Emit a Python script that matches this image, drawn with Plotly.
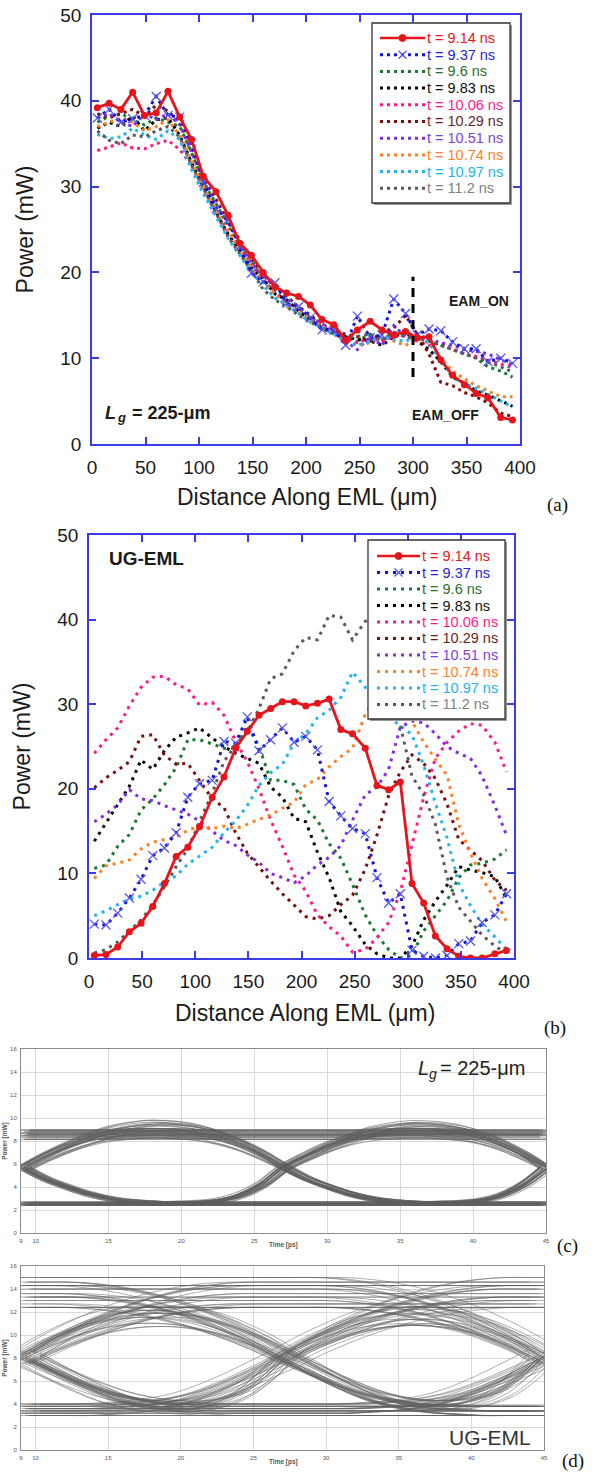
import plotly.graph_objects as go

W, H = 595, 1476


def px(x):
    return x / W


def py(y):
    return 1 - y / H


# ---------------------------------------------------------------- data (a), (b)
X = [5, 16, 27, 38, 49, 60, 71, 82, 93, 104, 116, 127, 138, 149, 160, 171, 182, 193,
     204, 215, 226, 237, 248, 260, 271, 282, 293, 304, 315, 326, 337, 348, 359, 370, 382, 393]

labels = ["t = 9.14 ns", "t = 9.37 ns", "t = 9.6 ns", "t = 9.83 ns", "t = 10.06 ns",
          "t = 10.29 ns", "t = 10.51 ns", "t = 10.74 ns", "t = 10.97 ns", "t = 11.2 ns"]
line_colors = ["#e8141c", "#1414dc", "#1a7a32", "#000000", "#ff1a8c",
               "#7a0f0f", "#7f2fe0", "#ff7f27", "#20b4f0", "#5a5a5a"]
text_colors = ["#e8141c", "#2424e0", "#2d6e2d", "#111111", "#ff1a8c",
               "#6a1f1f", "#8040e0", "#ff7f27", "#20b4f0", "#808080"]

# panel (a): Lg = 225 um
a_914 = [39.2, 39.7, 39.0, 41.0, 38.3, 38.6, 41.1, 38.1, 35.5, 31.2, 29.4, 26.7, 23.4, 22.0, 20.0, 18.3, 17.6, 17.2,
         16.2, 14.5, 13.9, 12.1, 13.3, 14.3, 13.3, 12.7, 13.1, 12.4, 12.5, 9.8, 8.0, 6.9, 5.9, 5.4, 3.1, 2.8]
a_937 = [38.0, 39.0, 37.5, 37.9, 38.3, 40.5, 38.3, 38.1, 35.1, 30.5, 27.4, 26.1, 23.0, 19.9, 18.9, 18.8, 16.4, 16.0,
         14.7, 13.3, 13.3, 11.5, 14.9, 12.4, 12.7, 16.9, 15.2, 12.7, 13.4, 13.2, 11.9, 11.1, 11.1, 9.6, 10.0, 9.4]
a_960 = [37.5, 38.2, 38.5, 37.8, 37.2, 38.0, 37.5, 37.0, 34.0, 30.5, 28.0, 25.5, 23.0, 21.5, 19.0, 17.8, 16.5, 15.5,
         14.8, 13.8, 13.0, 12.5, 12.0, 12.8, 12.2, 13.0, 12.8, 12.4, 12.0, 11.5, 11.0, 10.5, 10.0, 9.0, 8.5, 7.8]
a_983 = [36.8, 37.5, 37.0, 38.2, 36.5, 37.8, 38.0, 36.0, 32.8, 30.0, 27.0, 24.5, 22.5, 20.5, 19.2, 17.5, 16.8, 15.5,
         14.5, 13.5, 13.2, 12.5, 12.2, 12.0, 11.5, 12.5, 13.0, 12.0, 11.0, 9.6, 7.8, 7.1, 6.2, 5.7, 5.0, 4.4]
a_1006 = [34.2, 34.6, 35.1, 34.5, 34.4, 35.0, 35.4, 34.3, 32.5, 29.5, 27.0, 24.8, 22.8, 20.8, 19.0, 17.5, 16.5, 15.3,
          14.5, 13.8, 13.0, 12.2, 11.8, 12.3, 12.0, 12.5, 12.6, 12.0, 11.5, 11.8, 11.0, 10.5, 10.2, 9.8, 9.3, 8.9]
a_1029 = [38.5, 38.0, 38.5, 39.0, 38.2, 39.5, 38.8, 37.5, 34.5, 31.0, 28.5, 26.0, 23.8, 21.5, 19.8, 18.2, 17.2, 16.0,
          15.0, 14.0, 13.2, 12.8, 12.5, 12.0, 13.0, 13.5, 15.0, 12.8, 10.5, 7.2, 6.8, 6.0, 5.5, 4.8, 3.6, 3.2]
a_1051 = [38.0, 38.5, 37.5, 37.0, 38.5, 37.8, 38.5, 37.2, 34.0, 30.8, 27.8, 25.8, 23.5, 21.0, 19.5, 18.5, 17.0, 15.8,
          14.8, 14.0, 13.0, 12.0, 11.0, 12.5, 11.5, 13.8, 12.5, 12.8, 12.2, 11.8, 11.5, 11.0, 10.8, 10.5, 9.8, 9.2]
a_1074 = [37.0, 37.5, 38.0, 37.5, 36.5, 37.0, 37.8, 36.0, 33.0, 30.0, 27.2, 25.0, 22.5, 20.5, 18.8, 17.5, 16.0, 15.5,
          14.5, 13.8, 12.8, 12.0, 11.5, 11.8, 12.5, 12.0, 11.5, 12.2, 11.8, 10.0, 8.5, 7.6, 6.8, 6.2, 5.5, 5.5]
a_1097 = [36.1, 35.6, 35.8, 36.8, 36.0, 35.5, 36.5, 35.5, 32.0, 29.2, 26.5, 24.0, 22.0, 20.0, 18.5, 17.0, 16.2, 15.2,
          14.2, 13.5, 12.8, 12.0, 11.5, 12.0, 12.5, 12.2, 12.0, 12.5, 11.8, 9.8, 7.8, 7.0, 6.5, 5.8, 5.0, 4.3]
a_1120 = [36.5, 35.4, 35.0, 36.0, 35.8, 36.5, 37.0, 35.8, 32.5, 29.8, 26.8, 24.2, 22.2, 20.2, 18.0, 16.8, 16.0, 15.0,
          14.2, 13.5, 12.8, 12.3, 12.5, 12.8, 12.0, 13.0, 12.5, 12.3, 12.0, 11.5, 11.0, 10.5, 10.0, 9.5, 9.0, 8.4]
panel_a = [a_914, a_937, a_960, a_983, a_1006, a_1029, a_1051, a_1074, a_1097, a_1120]

# EAM boundary marker (a)
eam_x = [300, 300]
eam_y = [7.8, 19.5]

# panel (b): UG-EML
b_914 = [0.3, 0.4, 1.3, 3.1, 4.1, 6.1, 8.8, 12.0, 13.1, 15.5, 19.0, 21.4, 24.8, 26.8, 28.7, 29.5, 30.3, 30.3,
         29.8, 30.1, 30.6, 27.0, 26.5, 24.8, 20.4, 19.9, 20.8, 8.8, 6.5, 2.6, 1.1, 0.2, 0.0, 0.0, 0.5, 0.9]
b_937 = [4.0, 3.9, 5.3, 7.1, 9.3, 12.1, 13.0, 14.8, 19.0, 20.6, 21.0, 25.6, 25.4, 28.5, 24.5, 25.8, 27.2, 25.5,
         26.2, 24.6, 18.5, 16.8, 15.3, 14.7, 9.5, 6.5, 7.6, 0.9, 0.2, 0.0, 0.3, 1.7, 2.0, 4.2, 5.1, 7.6]
b_960 = [10.6, 11.0, 13.2, 14.6, 17.5, 18.8, 20.5, 22.5, 25.8, 25.8, 25.3, 24.8, 24.8, 27.5, 25.0, 21.0, 21.0, 20.5,
         17.6, 16.3, 13.5, 11.8, 8.7, 5.1, 2.7, 1.0, 0.0, 0.3, 3.2, 5.0, 6.8, 9.5, 11.0, 11.2, 11.7, 12.8]
b_983 = [13.8, 16.0, 18.2, 20.3, 23.4, 22.3, 24.5, 26.1, 26.6, 27.2, 26.0, 25.0, 24.2, 23.6, 23.0, 20.2, 19.0, 16.5,
         16.1, 12.5, 9.5, 5.5, 3.8, 1.6, 0.5, 0.0, 0.0, 1.4, 4.5, 6.7, 8.6, 10.8, 10.4, 10.1, 9.6, 7.0]
b_1006 = [24.2, 25.8, 27.2, 29.8, 32.0, 33.2, 33.3, 32.3, 31.8, 29.9, 30.2, 28.7, 25.6, 23.2, 20.0, 16.3, 13.2, 9.8,
          7.9, 5.1, 3.7, 2.6, 0.7, 1.0, 2.4, 4.2, 7.8, 13.3, 19.0, 23.6, 25.5, 26.8, 27.7, 27.5, 25.5, 22.0]
b_1029 = [20.1, 21.3, 22.2, 23.2, 26.2, 26.4, 24.0, 22.9, 23.0, 21.0, 18.8, 17.8, 14.8, 12.4, 10.7, 9.1, 7.6, 6.2,
          4.9, 4.6, 5.0, 6.3, 7.4, 10.5, 14.5, 19.2, 22.0, 24.0, 23.0, 21.2, 18.2, 14.0, 12.8, 11.5, 9.2, 8.0]
b_1051 = [16.1, 17.0, 18.1, 19.9, 18.8, 18.6, 18.0, 17.5, 17.0, 16.2, 15.0, 13.9, 13.3, 12.2, 11.3, 10.0, 9.5, 8.9,
          9.7, 11.0, 11.9, 13.3, 16.3, 19.3, 20.2, 22.3, 27.3, 28.0, 27.8, 26.5, 25.0, 24.2, 23.6, 21.5, 18.0, 14.5]
b_1074 = [9.4, 10.9, 11.2, 11.6, 12.9, 13.7, 14.0, 14.3, 15.1, 15.6, 15.3, 15.6, 15.3, 15.8, 16.4, 16.9, 17.7, 18.4,
          20.5, 21.1, 22.6, 23.8, 24.8, 28.8, 31.0, 31.5, 30.5, 28.0, 25.5, 23.5, 21.6, 15.8, 12.4, 9.4, 7.0, 4.3]
b_1097 = [5.0, 5.6, 6.3, 7.0, 7.3, 8.0, 9.0, 9.7, 11.1, 12.1, 13.1, 14.8, 16.2, 18.0, 20.4, 21.9, 22.9, 25.4,
          26.5, 28.4, 29.3, 30.8, 33.8, 32.0, 29.5, 28.5, 27.5, 26.4, 22.8, 18.3, 14.2, 8.8, 6.2, 4.0, 2.5, 1.0]
b_1120 = [0.6, 1.0, 1.9, 3.2, 4.5, 6.3, 8.4, 10.8, 12.9, 16.1, 19.5, 23.2, 25.2, 26.7, 29.5, 33.0, 33.6, 36.3,
          37.9, 37.6, 40.5, 40.3, 37.6, 39.8, 40.5, 37.0, 27.5, 21.5, 19.3, 15.8, 9.5, 6.0, 4.4, 2.7, 1.4, 0.6]
panel_b = [b_914, b_937, b_960, b_983, b_1006, b_1029, b_1051, b_1074, b_1097, b_1120]

# ---------------------------------------------------------------- data (c), (d): eye diagrams
UI_FRAC = [0.0, 0.083, 0.167, 0.25, 0.333, 0.417, 0.5, 0.583, 0.667, 0.75, 0.833, 0.917, 1.0]
bit_patterns = ["0000", "0001", "0010", "0011", "0100", "0101", "0110", "0111",
                "1000", "1001", "1010", "1011", "1100", "1101", "1110", "1111"]

# (c) Lg = 225 um : normalised waveform of one unit interval for each 3-bit context
c_shape = {
    "000": [0.0, 0.0, 0.0, 0.0, 0.0, 0.0, 0.0, 0.0, 0.0, 0.0, 0.0, 0.0, 0.0],
    "111": [1.0, 1.0, 1.0, 1.0, 1.0, 1.0, 1.0, 1.0, 1.0, 1.0, 1.0, 1.0, 1.0],
    "010": [0.52, 0.68, 0.82, 0.94, 1.04, 1.10, 1.13, 1.12, 1.08, 1.0, 0.88, 0.72, 0.52],
    "011": [0.52, 0.68, 0.82, 0.92, 0.98, 1.01, 1.02, 1.02, 1.01, 1.0, 1.0, 1.0, 1.0],
    "110": [1.0, 1.0, 1.0, 1.0, 1.01, 1.02, 1.02, 1.01, 0.98, 0.92, 0.82, 0.68, 0.52],
    "101": [0.52, 0.36, 0.24, 0.14, 0.07, 0.03, 0.01, 0.0, 0.01, 0.04, 0.12, 0.28, 0.52],
    "100": [0.52, 0.36, 0.24, 0.14, 0.07, 0.03, 0.01, 0.0, 0.0, 0.0, 0.0, 0.0, 0.0],
    "001": [0.0, 0.0, 0.0, 0.0, 0.0, 0.0, 0.0, 0.01, 0.02, 0.05, 0.13, 0.29, 0.52],
}
c_bounds = [9.2, 27.1, 45.0]
c_high = [8.15, 8.35, 8.5, 8.6, 8.7, 8.8, 8.95]
c_low = [2.4, 2.5, 2.55, 2.6, 2.7]
c_jitter = [-0.4, -0.2, 0.0, 0.2, 0.4]

# (d) UG-EML
d_shape = {
    "000": [0.0, 0.0, 0.0, 0.0, 0.0, 0.0, 0.0, 0.0, 0.0, 0.0, 0.0, 0.0, 0.0],
    "111": [1.0, 1.0, 1.0, 1.0, 1.0, 1.0, 1.0, 1.0, 1.0, 1.0, 1.0, 1.0, 1.0],
    "010": [0.45, 0.55, 0.63, 0.70, 0.75, 0.78, 0.79, 0.78, 0.75, 0.70, 0.63, 0.55, 0.45],
    "011": [0.45, 0.55, 0.64, 0.72, 0.79, 0.85, 0.90, 0.94, 0.97, 0.99, 1.0, 1.0, 1.0],
    "110": [1.0, 1.0, 1.0, 0.99, 0.97, 0.94, 0.90, 0.85, 0.79, 0.72, 0.64, 0.55, 0.45],
    "101": [0.45, 0.36, 0.27, 0.19, 0.12, 0.07, 0.04, 0.03, 0.04, 0.08, 0.15, 0.28, 0.45],
    "100": [0.45, 0.36, 0.27, 0.19, 0.12, 0.07, 0.04, 0.02, 0.01, 0.0, 0.0, 0.0, 0.0],
    "001": [0.0, 0.0, 0.0, 0.0, 0.01, 0.02, 0.04, 0.07, 0.12, 0.19, 0.27, 0.36, 0.45],
}
d_bounds = [9.3, 27.2, 45.0]
d_high = [12.4, 12.7, 13.0, 13.3, 13.6, 14.0, 14.3, 14.6, 15.0]
d_low = [3.0, 3.2, 3.4, 3.6, 3.8, 4.0]
d_jitter = [-1.0, -0.5, 0.0, 0.5, 1.0, -0.25, 0.25]


def eye_traces(shape, bounds, highs, lows, jit, variants):
    xs, ys = [], []
    for p_i, pat in enumerate(bit_patterns):
        for k in range(variants):
            hi = highs[(3 * k + p_i) % len(highs)]
            lo = lows[(2 * k + p_i) % len(lows)]
            dt = jit[(k + 2 * p_i) % len(jit)]
            for u in range(2):
                seg = pat[u:u + 3]
                t0, t1 = bounds[u], bounds[u + 1]
                for j, (f, v) in enumerate(zip(UI_FRAC, shape[seg])):
                    if u == 1 and j == 0:
                        continue
                    xs.append(t0 + f * (t1 - t0) + dt)
                    ys.append(lo + v * (hi - lo))
            xs.append(None)
            ys.append(None)
    return xs, ys


# ---------------------------------------------------------------- figure
fig = go.Figure()

FONT = "Liberation Sans, Arial, sans-serif"
SERIF = "Liberation Serif, Times New Roman, serif"
AXIS_BLUE = "#3c3ce6"
DASH_A = "3px,4px"
DASH_B = "3px,5px"


def add_series(panel, xa, ya, dash):
    order = [2, 3, 4, 5, 6, 7, 8, 9, 1, 0]
    for i in order:
        ys = panel[i]
        if i == 0:
            fig.add_trace(go.Scatter(x=X, y=ys, mode="lines+markers", xaxis=xa, yaxis=ya,
                                     line=dict(color=line_colors[0], width=2.8),
                                     marker=dict(symbol="circle", size=7, color=line_colors[0]),
                                     showlegend=False, name=labels[0]))
        elif i == 1:
            fig.add_trace(go.Scatter(x=X, y=ys, mode="lines+markers", xaxis=xa, yaxis=ya,
                                     line=dict(color=line_colors[1], width=3, dash=dash),
                                     marker=dict(symbol="x-thin", size=9,
                                                 line=dict(color="#5555f0", width=1.3)),
                                     showlegend=False, name=labels[1]))
        else:
            fig.add_trace(go.Scatter(x=X, y=ys, mode="lines", xaxis=xa, yaxis=ya,
                                     line=dict(color=line_colors[i], width=3, dash=dash),
                                     showlegend=False, name=labels[i]))


add_series(panel_a, "x", "y", DASH_A)
fig.add_trace(go.Scatter(x=eam_x, y=eam_y, mode="lines", xaxis="x", yaxis="y",
                         line=dict(color="black", width=3, dash="9px,7px"), showlegend=False))
add_series(panel_b, "x2", "y2", DASH_B)

cx, cy = eye_traces(c_shape, c_bounds, c_high, c_low, c_jitter, 6)
fig.add_trace(go.Scatter(x=cx, y=cy, mode="lines", xaxis="x3", yaxis="y3",
                         line=dict(color="rgba(95,95,95,0.55)", width=1.1, shape="spline"),
                         connectgaps=False, showlegend=False))
dx, dy = eye_traces(d_shape, d_bounds, d_high, d_low, d_jitter, 8)
fig.add_trace(go.Scatter(x=dx, y=dy, mode="lines", xaxis="x4", yaxis="y4",
                         line=dict(color="rgba(95,95,95,0.5)", width=1.0, shape="spline"),
                         connectgaps=False, showlegend=False))


def em_axis(x0, x1, rng, dtick, **kw):
    d = dict(domain=[x0, x1], range=rng, dtick=dtick, ticks="inside", ticklen=7, tickwidth=1.5,
             tickcolor=AXIS_BLUE, showline=True, linecolor=AXIS_BLUE, linewidth=1.5,
             mirror="ticks", showgrid=False, zeroline=False, automargin=False,
             tickfont=dict(family=FONT, size=19, color="#1a1a1a"), ticklabelstandoff=5)
    d.update(kw)
    return d


def eye_axis(x0, x1, rng, **kw):
    d = dict(domain=[x0, x1], range=rng, showgrid=True, gridcolor="#d9d9d9", gridwidth=1,
             showline=True, linecolor="#8c8c8c", linewidth=1, mirror=True, ticks="",
             zeroline=False, automargin=False, tickfont=dict(family=FONT, size=6, color="#555555"),
             ticklabelstandoff=2)
    d.update(kw)
    return d


eye_xticks = [9, 10, 15, 20, 25, 30, 35, 40, 45]
em_ytitle = dict(text="Power (mW)", font=dict(family=FONT, size=23, color="#1a1a1a"), standoff=20)
eye_ytitle = dict(text="Power [mW]", font=dict(family=FONT, size=6.5, color="#555555", weight="bold"),
                  standoff=1)

fig.update_layout(
    width=W, height=H, autosize=False,
    margin=dict(l=0, r=0, t=0, b=0),
    paper_bgcolor="white", plot_bgcolor="white",
    showlegend=False,
    xaxis=em_axis(px(92), px(520), [0, 400], 50, anchor="y"),
    yaxis=em_axis(py(444), py(15), [0, 50], 10, anchor="x", title=em_ytitle),
    xaxis2=em_axis(px(89), px(514), [0, 400], 50, anchor="y2"),
    yaxis2=em_axis(py(958), py(535), [0, 50], 10, anchor="x2", title=em_ytitle),
    xaxis3=eye_axis(px(21), px(546), [9, 45], tickvals=eye_xticks, anchor="y3"),
    yaxis3=eye_axis(py(1233), py(1049), [0, 16], dtick=2, anchor="x3", title=eye_ytitle),
    xaxis4=eye_axis(px(21), px(544), [9, 45], tickvals=eye_xticks, anchor="y4"),
    yaxis4=eye_axis(py(1450), py(1266), [0, 16], dtick=2, anchor="x4", title=eye_ytitle),
)

shapes = []
annotations = []


def ann(x, y, text, size, color="#1a1a1a", family=FONT, xanchor="center", weight="normal",
        style="normal"):
    annotations.append(dict(x=px(x), y=py(y), xref="paper", yref="paper", text=text,
                            showarrow=False, xanchor=xanchor, yanchor="middle",
                            font=dict(family=family, size=size, color=color, weight=weight,
                                      style=style)))


def legend_box(x0, y0, x1, y1, row0, step, sx0, sx1, tx, dash):
    shapes.append(dict(type="rect", xref="paper", yref="paper", x0=px(x0 + 2), x1=px(x1 + 2),
                       y0=py(y1 + 2), y1=py(y0 + 2), line=dict(width=0), fillcolor="#9a9a9a",
                       layer="above"))
    shapes.append(dict(type="rect", xref="paper", yref="paper", x0=px(x0), x1=px(x1),
                       y0=py(y1), y1=py(y0), line=dict(color="#333333", width=1.3),
                       fillcolor="white", layer="above"))
    for i in range(10):
        ry = row0 + i * step
        if i == 0:
            shapes.append(dict(type="line", xref="paper", yref="paper", x0=px(sx0), x1=px(sx1),
                               y0=py(ry), y1=py(ry), line=dict(color=line_colors[0], width=2.5),
                               layer="above"))
            cxm = (sx0 + sx1) / 2
            shapes.append(dict(type="circle", xref="paper", yref="paper", x0=px(cxm - 3.5),
                               x1=px(cxm + 3.5), y0=py(ry + 3.5), y1=py(ry - 3.5),
                               fillcolor=line_colors[0], line=dict(color=line_colors[0], width=1),
                               layer="above"))
        else:
            shapes.append(dict(type="line", xref="paper", yref="paper", x0=px(sx0), x1=px(sx1),
                               y0=py(ry), y1=py(ry),
                               line=dict(color=line_colors[i], width=3, dash=dash), layer="above"))
            if i == 1:
                cxm = (sx0 + sx1) / 2
                for s in (1, -1):
                    shapes.append(dict(type="line", xref="paper", yref="paper", x0=px(cxm - 4),
                                       x1=px(cxm + 4), y0=py(ry - 4 * s), y1=py(ry + 4 * s),
                                       line=dict(color="#5555f0", width=1.3), layer="above"))
        ann(tx, ry, labels[i], 14.5, color=text_colors[i], xanchor="left")


legend_box(372, 23, 510, 203, 38, 16.7, 380, 425, 425, DASH_A)
legend_box(368, 540, 505, 719, 556, 16.5, 377, 420, 420, DASH_B)

# axis titles (horizontal)
ann(307, 497, "Distance Along EML (μm)", 23)
ann(305, 1013, "Distance Along EML (μm)", 23)
ann(283, 1245, "Time [ps]", 6.5, color="#555555", weight="bold")
ann(283, 1462, "Time [ps]", 6.5, color="#555555", weight="bold")

# panel texts: Lg = 225-um (a)
ann(103, 413, "L", 18, xanchor="left", weight="bold", style="italic")
ann(115, 418, "g", 13, xanchor="left", weight="bold", style="italic")
ann(130, 413, "= 225-μm", 18, xanchor="left", weight="bold")
ann(479, 301, "EAM_ON", 14, weight="bold")
ann(445, 415, "EAM_OFF", 14, weight="bold")
ann(107, 558, "UG-EML", 19, xanchor="left", weight="bold")
# Lg = 225-um (c)
ann(416, 1068, "L", 20, color="#222222", xanchor="left", style="italic")
ann(427, 1074, "g", 14, color="#222222", xanchor="left", style="italic")
ann(438, 1068, "= 225-μm", 20, color="#222222", xanchor="left")
ann(447, 1437, "UG-EML", 21, color="#333333", xanchor="left")

# panel letters
ann(557, 505, "(a)", 19, family=SERIF, color="#111111")
ann(555, 1028, "(b)", 19, family=SERIF, color="#111111")
ann(567, 1246, "(c)", 19, family=SERIF, color="#111111")
ann(573, 1461, "(d)", 19, family=SERIF, color="#111111")

fig.update_layout(shapes=shapes, annotations=annotations)
fig.write_html("out.html")
